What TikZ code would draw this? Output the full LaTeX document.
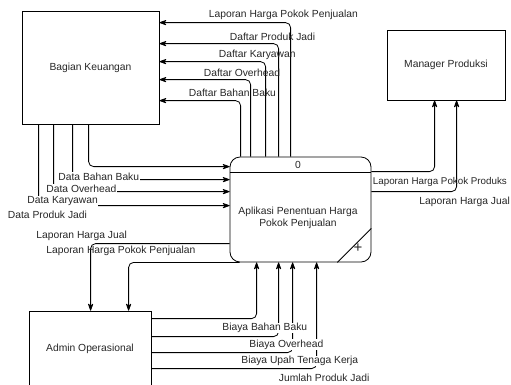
\documentclass[tikz,border=0pt]{standalone}
\usepackage{fontspec}
\setmainfont{Liberation Sans}
\usetikzlibrary{arrows.meta}
\begin{document}
\begin{tikzpicture}[x=1pt,y=-1pt,line width=0.8pt,
  font=\fontsize{10.3}{12}\selectfont,
  box/.style={draw,inner sep=0pt,text=black!85},
  flow/.style={draw,rounded corners=5pt,-{Stealth[length=8.5pt,width=6pt,round]}},
  lbl/.style={anchor=west,inner sep=0.5pt,text=black!85},
  wlbl/.style={lbl,fill=white}]
\useasboundingbox (0,0) rectangle (511,384);
\clip (0,0) rectangle (511,384);
% entities and process
\node[box,minimum width=137pt,minimum height=113pt] (bk) at (90.5,67.5) {Bagian Keuangan};
\node[box,minimum width=118pt,minimum height=70pt] (mgr) at (446,65) {Manager Produksi};
\node[box,rounded corners=10pt,minimum width=141pt,minimum height=105pt] (proc) at (300.5,209.5) {};
\node[box,minimum width=122pt,minimum height=76pt] (adm) at (90,349) {Admin Operasional};
\node[lbl,anchor=center,align=center] (ptxt) at (298,217.5) {Aplikasi Penentuan Harga\\Pokok Penjualan};
\node[lbl,anchor=center] (pid) at (298,165) {0};
\node[lbl,anchor=center,font=\fontsize{15}{15}\selectfont] (plus) at (358,248.5) {+};
\draw ([yshift=-16pt]proc.north west) -- ([yshift=-16pt]proc.north east);
\draw ([xshift=-34pt]proc.south east) -- ([yshift=34pt]proc.south east);
% process -> Bagian Keuangan
\draw[flow] ([xshift=61pt]proc.north west) |- ([yshift=-12pt]bk.north east);
\draw[flow] ([xshift=49pt]proc.north west) |- ([yshift=-33pt]bk.north east);
\draw[flow] ([xshift=36pt]proc.north west) |- ([yshift=-51pt]bk.north east);
\draw[flow] ([xshift=21pt]proc.north west) |- ([yshift=-69pt]bk.north east);
\draw[flow] ([xshift=11pt]proc.north west) |- ([yshift=-90pt]bk.north east);
\node[lbl] (l1) at (208,15) {Laporan Harga Pokok Penjualan};
\node[lbl] (l2) at (229,37) {Daftar Produk Jadi};
\node[lbl] (l3) at (218,54.5) {Daftar Karyawan};
\node[lbl] (l4) at (203,72.5) {Daftar Overhead};
\node[lbl] (l5) at (188,92.5) {Daftar Bahan Baku};
% Bagian Keuangan -> process
\draw[flow] ([xshift=67pt]bk.south west) |- ([yshift=-10pt]proc.north west);
\draw[flow] ([xshift=51pt]bk.south west) |- ([yshift=-23pt]proc.north west);
\draw[flow] ([xshift=32pt]bk.south west) |- ([yshift=-35pt]proc.north west);
\draw[flow] ([xshift=17pt]bk.south west) |- ([yshift=-49pt]proc.north west);
\node[wlbl] (d1) at (57.5,176.5) {Data Bahan Baku};
\node[wlbl] (d2) at (45.5,188.5) {Data Overhead};
\node[wlbl] (d3) at (26.5,201.5) {Data Karyawan};
\node[lbl] (d4) at (7,214.5) {Data Produk Jadi};
% process -> Admin
\draw[flow] ([yshift=-87pt]proc.north west) -| ([xshift=62pt]adm.north west);
\draw[flow] ([xshift=10pt]proc.south west) -| ([xshift=100pt]adm.north west);
\node[lbl] (a1) at (35.5,235.5) {Laporan Harga Jual};
\node[lbl] (a2) at (45.5,251) {Laporan Harga Pokok Penjualan};
% process -> Manager
\draw[flow] ([yshift=-15pt]proc.north east) -| ([xshift=48pt]mgr.south west);
\draw[flow] ([yshift=-35pt]proc.north east) -| ([xshift=70pt]mgr.south west);
\node[lbl,font=\fontsize{9.8}{12}\selectfont] (m1) at (372,182) {Laporan Harga Pokok Produks};
\node[lbl] (m2) at (418.5,201.5) {Laporan Harga Jual};
% Admin -> process
\draw[flow] ([yshift=-8pt]adm.north east) -| ([xshift=27pt]proc.south west);
\draw[flow] ([yshift=-26pt]adm.north east) -| ([xshift=49pt]proc.south west);
\draw[flow] ([yshift=-42pt]adm.north east) -| ([xshift=63pt]proc.south west);
\draw[flow] ([yshift=-58pt]adm.north east) -| ([xshift=87pt]proc.south west);
\node[wlbl] (b1) at (221.5,328) {Biaya Bahan Baku};
\node[wlbl] (b2) at (248.5,344.5) {Biaya Overhead};
\node[wlbl] (b3) at (240.5,361) {Biaya Upah Tenaga Kerja};
\node[lbl] (b4) at (278,377.5) {Jumlah Produk Jadi};
\end{tikzpicture}
\end{document}
